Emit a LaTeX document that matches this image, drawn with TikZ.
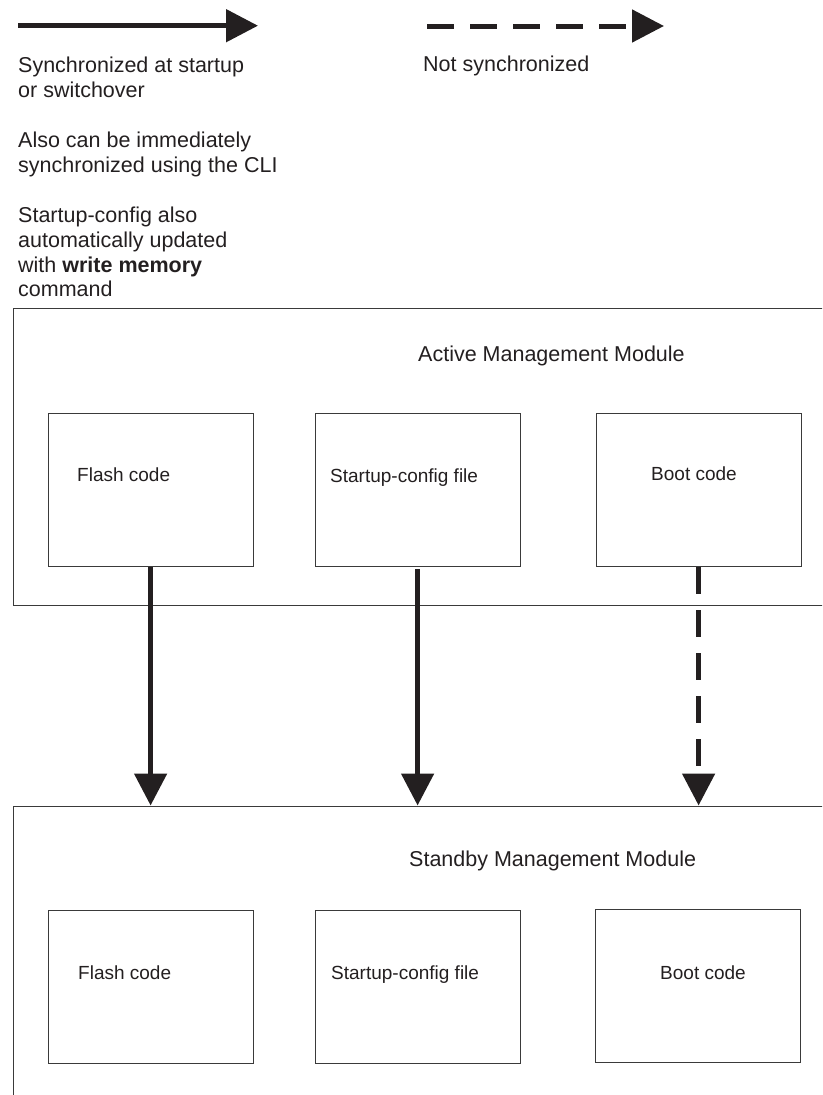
\documentclass[tikz,border=0pt]{standalone}
\usepackage{fontspec}
\setmainfont{Liberation Sans}
\usetikzlibrary{arrows.meta}
\definecolor{ink}{HTML}{231F20}
\definecolor{frame}{HTML}{3A3A3A}
\begin{document}
\begin{tikzpicture}[x=1pt,y=-1pt,
  every node/.style={inner sep=0pt, text=ink},
  legendtxt/.style={anchor=base west, font=\fontsize{21.5}{24.6}\selectfont},
  titletxt/.style={anchor=base west, font=\fontsize{21.5}{24.6}\selectfont},
  boxtxt/.style={anchor=base west, font=\fontsize{19}{22}\selectfont},
  modbox/.style={draw=frame, line width=1.2pt, anchor=north west, minimum width=830pt},
  itembox/.style={draw=frame, line width=1.2pt, anchor=north west, minimum width=205pt, minimum height=153pt},
  sync/.style={draw=ink, line width=5pt, -{Triangle[length=32pt,width=32pt]}},
  nosync/.style={sync, dash pattern=on 26.7pt off 16.3pt}
]
\useasboundingbox (0,0) rectangle (822,1095);
\clip (0,0) rectangle (822,1095);

% legend
\coordinate (s0) at (18,25.7);
\coordinate (s1) at (258,25.7);
\draw[sync] (s0) -- (s1);
\coordinate (d0) at (427,26);
\coordinate (d1) at (664,26);
\draw[nosync] (d0) -- (d1);

\node[legendtxt] (l1) at (18,72.7) {Synchronized at startup};
\node[legendtxt] (l2) at (18,97.3) {or switchover};
\node[legendtxt] (l3) at (18,147.7) {Also can be immediately};
\node[legendtxt] (l4) at (18,172.7) {synchronized using the CLI};
\node[legendtxt] (l5) at (18,222.7) {Startup-config also};
\node[legendtxt] (l6) at (18,247.3) {automatically updated};
\node[legendtxt] (l7) at (18,272) {with \textbf{write memory}};
\node[legendtxt] (l8) at (18,296.7) {command};
\node[legendtxt] (n1) at (423,71.7) {Not synchronized};

% active module
\node[modbox, minimum height=296.5pt] (active) at (12.5,308) {};
\node[titletxt] (atitle) at (418,361) {Active Management Module};
\node[itembox] (aflash) at (47.5,413) {};
\node[itembox] (astart) at (314.5,413) {};
\node[itembox] (aboot) at (595.5,413) {};
\node[boxtxt] (aflasht) at (77,481.5) {Flash code};
\node[boxtxt] (astartt) at (330,482) {Startup-config file};
\node[boxtxt] (aboott) at (651,480.5) {Boot code};

% standby module
\node[modbox, minimum height=400pt] (standby) at (12.5,805.5) {};
\node[titletxt] (stitle) at (409,866) {Standby Management Module};
\node[itembox] (sflash) at (48,910) {};
\node[itembox] (sstart) at (315,910) {};
\node[itembox] (sboot) at (595,909) {};
\node[boxtxt] (sflasht) at (78,979) {Flash code};
\node[boxtxt] (sstartt) at (331,979) {Startup-config file};
\node[boxtxt] (sboott) at (660,979) {Boot code};

% synchronisation arrows
\draw[sync] (aflash.south) -- (aflash.south |- standby.north);
\draw[sync, shorten <=2pt] (astart.south) -- (astart.south |- standby.north);
\draw[nosync] (aboot.south) -- (aboot.south |- standby.north);
\end{tikzpicture}
\end{document}
